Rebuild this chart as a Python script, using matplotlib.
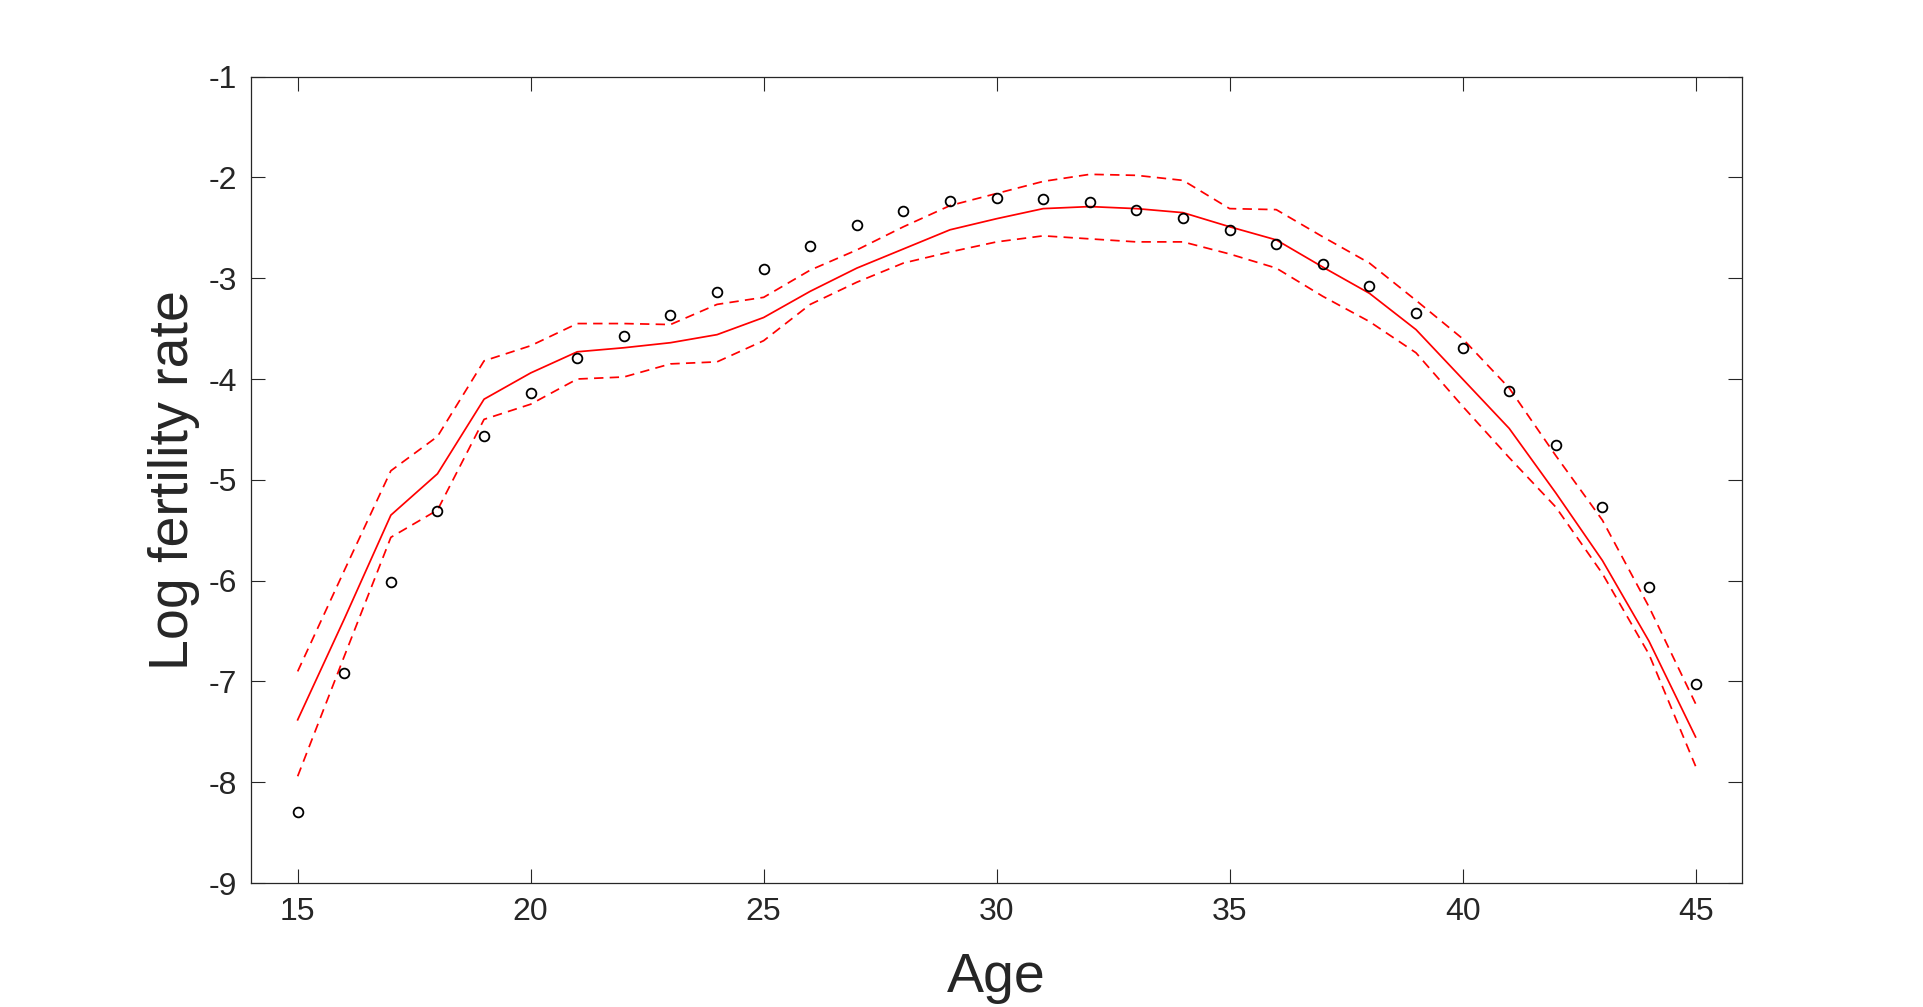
import numpy as np
import matplotlib.pyplot as plt

plt.rcParams['font.family'] = ['Liberation Sans', 'DejaVu Sans']
plt.rcParams['axes.unicode_minus'] = False

age = np.arange(15, 46)
obs = [-8.29, -6.92, -6.01, -5.31, -4.57, -4.14, -3.79, -3.57, -3.37, -3.14,
       -2.91, -2.68, -2.47, -2.33, -2.23, -2.20, -2.21, -2.24, -2.32, -2.40,
       -2.52, -2.66, -2.86, -3.08, -3.35, -3.69, -4.12, -4.65, -5.27, -6.06,
       -7.02]
fit = [-7.38, -6.38, -5.35, -4.94, -4.20, -3.94, -3.73, -3.69, -3.64, -3.56,
       -3.39, -3.13, -2.90, -2.71, -2.52, -2.41, -2.31, -2.29, -2.31, -2.35,
       -2.49, -2.62, -2.89, -3.15, -3.51, -4.00, -4.49, -5.13, -5.80, -6.60,
       -7.55]
upper = [-6.90, -5.90, -4.91, -4.57, -3.82, -3.67, -3.45, -3.45, -3.46, -3.26,
         -3.19, -2.92, -2.72, -2.49, -2.28, -2.16, -2.04, -1.97, -1.98, -2.03,
         -2.31, -2.32, -2.59, -2.85, -3.22, -3.60, -4.09, -4.76, -5.40, -6.26,
         -7.22]
lower = [-7.94, -6.75, -5.57, -5.30, -4.40, -4.25, -4.00, -3.98, -3.85, -3.83,
         -3.62, -3.26, -3.04, -2.85, -2.74, -2.64, -2.58, -2.61, -2.64, -2.64,
         -2.76, -2.90, -3.18, -3.43, -3.74, -4.27, -4.78, -5.27, -5.93, -6.73,
         -7.84]

fig = plt.figure(figsize=(19.24, 10.07), dpi=100)
ax = fig.add_axes([0.1305, 0.123, 0.775, 0.801])

dash = (0, (5.4, 3.6))
ax.plot(age, fit, '-', color='#ff0000', lw=1.25)
ax.plot(age, upper, color='#ff0000', lw=1.25, linestyle=dash)
ax.plot(age, lower, color='#ff0000', lw=1.25, linestyle=dash)
ax.plot(age, obs, 'o', mfc='none', mec='k', mew=1.3, ms=7)

ax.set_xlim(14, 46)
ax.set_ylim(-9, -1)
ax.set_xticks(np.arange(15, 46, 5))
ax.set_yticks(np.arange(-9, 0, 1))

c = '#262626'
for s in ax.spines.values():
    s.set_color(c)
    s.set_linewidth(0.9)
ax.tick_params(direction='in', length=10, width=0.8, colors=c, labelsize=23,
               top=True, right=True, pad=10)
ax.set_xlabel('Age', fontsize=40, color=c, labelpad=18)
ax.set_ylabel('Log fertility rate', fontsize=40, color=c, labelpad=6)

fig.savefig('out.png', dpi=100)
